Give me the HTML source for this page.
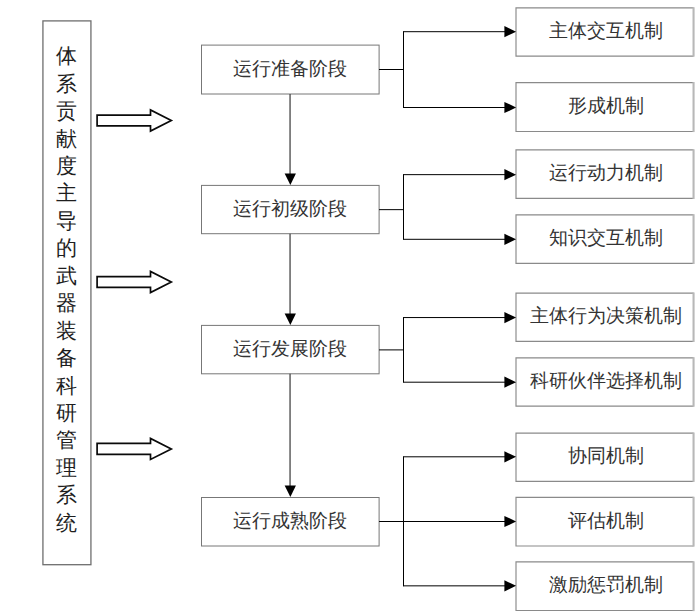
<!DOCTYPE html>
<html>
<head>
<meta charset="utf-8">
<style>
html,body{margin:0;padding:0;background:#fff;}
body{width:700px;height:615px;position:relative;overflow:hidden;font-family:"Liberation Sans",sans-serif;color:#333;}
svg{position:absolute;left:0;top:0;}
.t{position:absolute;font-size:18.67px;line-height:30px;height:30px;text-align:center;white-space:nowrap;}
.s{left:201px;width:178px;}
.r{left:516.7px;width:178px;}
.v{position:absolute;left:54.7px;width:24px;top:43.3px;font-size:21.33px;line-height:27.45px;text-align:center;color:#1e1e1e;}
.v span{display:block;height:27.45px;}
</style>
</head>
<body>
<svg width="700" height="615" viewBox="0 0 700 615">
<rect x="42.93" y="20.9" width="48" height="543.8" fill="none" stroke="#6e6e6e" stroke-width="1.3"/>
<g fill="none" stroke="#777" stroke-width="1">
<rect x="201.5" y="45.1" width="177.6" height="48.9"/>
<rect x="201.5" y="185.4" width="177.6" height="48.3"/>
<rect x="201.5" y="325.4" width="177.6" height="48.4"/>
<rect x="201.5" y="497.5" width="177.6" height="48.5"/>
</g>
<g fill="none" stroke="#8a8a8a" stroke-width="1.15">
<path d="M693.56 7.84H516V56.06H693.56"/>
<path d="M693.56 82.6H516V131.46H693.56"/>
<path d="M693.56 149.9H516V198.4H693.56"/>
<path d="M693.56 214.8H516V263.4H693.56"/>
<path d="M693.56 293.07H516V341.4H693.56"/>
<path d="M693.56 357.8H516V406.15H693.56"/>
<path d="M693.56 433.1H516V481.3H693.56"/>
<path d="M693.56 497.35H516V546H693.56"/>
<path d="M693.56 561.9H516V610.5H693.56"/>
</g>
<g fill="none" stroke="#b8b8b8" stroke-width="2.1">
<line x1="693.56" y1="7.24" x2="693.56" y2="56.66"/>
<line x1="693.56" y1="82" x2="693.56" y2="132.06"/>
<line x1="693.56" y1="149.3" x2="693.56" y2="199"/>
<line x1="693.56" y1="214.2" x2="693.56" y2="264"/>
<line x1="693.56" y1="292.47" x2="693.56" y2="342"/>
<line x1="693.56" y1="357.2" x2="693.56" y2="406.75"/>
<line x1="693.56" y1="432.5" x2="693.56" y2="481.9"/>
<line x1="693.56" y1="496.75" x2="693.56" y2="546.6"/>
<line x1="693.56" y1="561.3" x2="693.56" y2="611.1"/>
</g>
<g stroke="#464646" stroke-width="1.3">
<line x1="290.05" y1="94" x2="290.05" y2="174.4"/>
<line x1="290.05" y1="233.7" x2="290.05" y2="314.4"/>
<line x1="290.05" y1="373.8" x2="290.05" y2="486.5"/>
</g><g fill="#000">
<polygon points="284.65,173.5 295.95,173.5 290.35,185"/>
<polygon points="284.65,313.5 295.95,313.5 290.35,325"/>
<polygon points="284.65,485.6 295.95,485.6 290.35,497.1"/>
</g>
<g stroke="#000" stroke-width="1" fill="none">
<path d="M379.1 69.5H403.5M403.5 31.2V108M403.5 31.7H505M403.5 107.5H505"/>
<path d="M379.1 209.65H403.5M403.5 174.15V239.8M403.5 174.65H505M403.5 239.3H505"/>
<path d="M379.1 349.9H403.5M403.5 317.05V382.7M403.5 317.55H505M403.5 382.2H505"/>
<path d="M379.1 521.5H403.5M403.5 456.3V586.35M403.5 456.8H505M403.5 521.5H505M403.5 585.85H505"/>
</g><g fill="#000">
<polygon points="504.4,26.1 516.1,31.7 504.4,37.3"/>
<polygon points="504.4,101.9 516.1,107.5 504.4,113.1"/>
<polygon points="504.4,169.05 516.1,174.65 504.4,180.25"/>
<polygon points="504.4,233.7 516.1,239.3 504.4,244.9"/>
<polygon points="504.4,311.95 516.1,317.55 504.4,323.15"/>
<polygon points="504.4,376.6 516.1,382.2 504.4,387.8"/>
<polygon points="504.4,451.2 516.1,456.8 504.4,462.4"/>
<polygon points="504.4,515.9 516.1,521.5 504.4,527.1"/>
<polygon points="504.4,580.25 516.1,585.85 504.4,591.45"/>
</g>
<g fill="#fff" stroke="#0a0a0a" stroke-width="1.7" stroke-linejoin="miter" stroke-miterlimit="10">
<polygon points="97.1,115.05 150.5,115.05 150.5,110 171.3,120.5 150.5,131 150.5,125.95 97.1,125.95"/>
<polygon points="97.1,276.55 150.5,276.55 150.5,271.5 171.3,282 150.5,292.5 150.5,287.45 97.1,287.45"/>
<polygon points="97.1,443.45 150.5,443.45 150.5,438.4 171.3,448.9 150.5,459.4 150.5,454.35 97.1,454.35"/>
</g>
</svg>
<div class="t s" style="top:53.65px">运行准备阶段</div>
<div class="t s" style="top:193.65px">运行初级阶段</div>
<div class="t s" style="top:333.7px">运行发展阶段</div>
<div class="t s" style="top:505.85px">运行成熟阶段</div>
<div class="t r" style="top:16.05px">主体交互机制</div>
<div class="t r" style="top:91.13px">形成机制</div>
<div class="t r" style="top:158.25px">运行动力机制</div>
<div class="t r" style="top:223.2px">知识交互机制</div>
<div class="t r" style="top:301.34px">主体行为决策机制</div>
<div class="t r" style="top:366.08px">科研伙伴选择机制</div>
<div class="t r" style="top:441.3px">协同机制</div>
<div class="t r" style="top:505.77px">评估机制</div>
<div class="t r" style="top:570.3px">激励惩罚机制</div>
<div class="v"><span>体</span><span>系</span><span>贡</span><span>献</span><span>度</span><span>主</span><span>导</span><span>的</span><span>武</span><span>器</span><span>装</span><span>备</span><span>科</span><span>研</span><span>管</span><span>理</span><span>系</span><span>统</span></div>
</body>
</html>
